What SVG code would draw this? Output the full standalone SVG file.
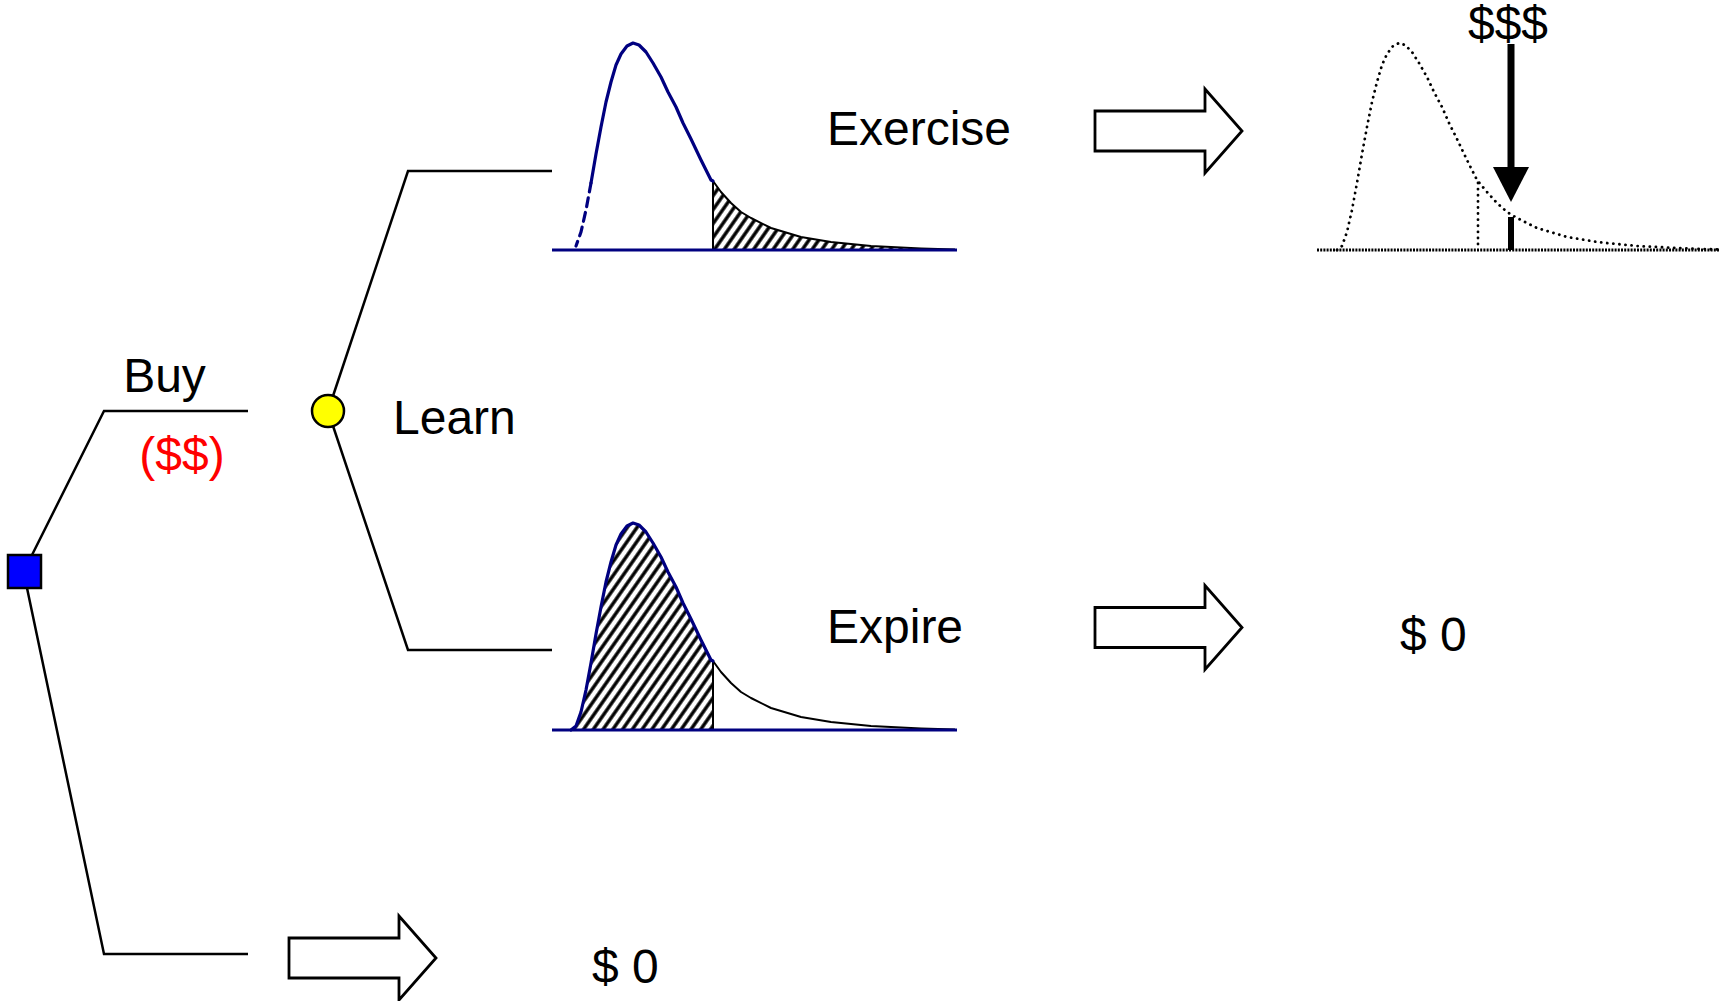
<svg xmlns="http://www.w3.org/2000/svg" width="1719" height="1001" viewBox="0 0 1719 1001">
  <style>
    .lbl { font-family: "Liberation Sans", Arial, sans-serif; font-size: 48px; fill: #000; }
    .red { fill: #ff0000; }
    .branch { fill: none; stroke: #000; stroke-width: 2.5; stroke-linejoin: miter; }
    .blk { fill: #fff; stroke: #000; stroke-width: 2.8; stroke-linejoin: miter; }
    .navy { fill: none; stroke: #000080; stroke-width: 3.2; stroke-linejoin: round; stroke-linecap: round; }
    .thin { fill: none; stroke: #000; stroke-width: 2; stroke-linejoin: round; }
    .dots { fill: none; stroke: #000; stroke-width: 2.8; stroke-linecap: round; stroke-dasharray: 0.1 6; stroke-linejoin: round; }
  </style>
  <defs>
    <pattern id="hatch" patternUnits="userSpaceOnUse" width="8" height="8" patternTransform="rotate(35)">
      <rect width="8" height="8" fill="#fff"/>
      <line x1="2" y1="0" x2="2" y2="8" stroke="#000" stroke-width="3.4"/>
    </pattern>
    <polygon id="blockArrow" points="0,-20 110,-20 110,-42 147,0 110,42 110,20 0,20"/>
  </defs>
  <rect width="1719" height="1001" fill="#fff"/>

  <g id="connectors">
    <polyline class="branch" points="32,555 104,411 248,411"/>
    <polyline class="branch" points="27,588 104,954 248,954"/>
    <polyline class="branch" points="328,411 408,171 552,171"/>
    <polyline class="branch" points="328,411 408,650 552,650"/>
  </g>

  <g id="decision-node">
    <rect x="8" y="555" width="33" height="33" fill="#0000ff" stroke="#000" stroke-width="2.5"/>
  </g>
  <g id="buy-label">
    <text class="lbl" x="164.5" y="392" text-anchor="middle">Buy</text>
    <text class="lbl red" x="182" y="471" text-anchor="middle">($$)</text>
  </g>
  <g id="chance-node">
    <circle cx="328" cy="411" r="16" fill="#ffff00" stroke="#000" stroke-width="2.5"/>
  </g>
  <g id="learn-label">
    <text class="lbl" x="393" y="434">Learn</text>
  </g>

  <g id="exercise-dist" transform="translate(-2,0)">
    <path fill="url(#hatch)" stroke="none" d="M715,250 L715,180 L723,192 L733,203 L743,212 L753,218 L773,228 L803,237 L833,242 L873,246 L923,248.5 L945,249.5 L945,250 Z"/>
    <path class="thin" d="M715,181 L723,192 L733,203 L743,212 L753,218 L773,228 L803,237 L833,242 L873,246 L923,248.5 L957,249.6"/>
    <line x1="715" y1="181" x2="715" y2="250" stroke="#000" stroke-width="2"/>
    <path class="navy" stroke-dasharray="9 6" stroke-linecap="butt" d="M593,183 L588,210 L583,232 L578,246"/>
    <path class="navy" d="M593,183 L598,154 L603,127 L608,102 L613,82 L618,65 L623,54 L629,46 L635,43 L641,45 L648,52 L655,63 L663,77 L670,92 L678,107 L685,123 L693,139 L703,160 L713,180 L715,181"/>
    <line x1="554" y1="250" x2="959" y2="250" stroke="#000080" stroke-width="3"/>
  </g>
  <g id="exercise-label">
    <text class="lbl" x="827" y="145">Exercise</text>
  </g>

  <g id="expire-dist" transform="translate(-2,0)">
    <path fill="url(#hatch)" stroke="none" d="M573,730 L578,726 L583,712 L588,690 L593,663 L598,634 L603,607 L608,582 L613,562 L618,545 L623,534 L629,526 L635,523 L641,525 L648,532 L655,543 L663,557 L670,572 L678,587 L685,603 L693,619 L703,640 L713,660 L715,661 L715,730 Z"/>
    <path class="thin" d="M715,661 L723,672 L733,683 L743,692 L753,698 L773,708 L803,717 L833,722 L873,726 L923,728.5 L957,729.6"/>
    <line x1="715" y1="661" x2="715" y2="730" stroke="#000" stroke-width="2"/>
    <path class="navy" d="M573,730 L578,726 L583,712 L588,690 L593,663 L598,634 L603,607 L608,582 L613,562 L618,545 L623,534 L629,526 L635,523 L641,525 L648,532 L655,543 L663,557 L670,572 L678,587 L685,603 L693,619 L703,640 L713,660 L715,661"/>
    <line x1="554" y1="730" x2="959" y2="730" stroke="#000080" stroke-width="3"/>
  </g>
  <g id="expire-label">
    <text class="lbl" x="827" y="643">Expire</text>
  </g>

  <g id="arrow-exercise">
    <use href="#blockArrow" class="blk" transform="translate(1095,131)"/>
  </g>
  <g id="arrow-expire">
    <use href="#blockArrow" class="blk" transform="translate(1095,627.5)"/>
  </g>
  <g id="arrow-nobuy">
    <use href="#blockArrow" class="blk" transform="translate(289,958)"/>
  </g>

  <g id="payoff-dist">
    <line x1="1317" y1="250" x2="1719" y2="250" stroke="#000" stroke-width="2.8" stroke-dasharray="2 1.2"/>
    <path class="dots" d="M1337,250 L1342,246 L1347,232 L1352,210 L1357,183 L1362,154 L1367,127 L1372,102 L1377,82 L1382,65 L1387,54 L1393,46 L1399,43 L1405,45 L1412,52 L1419,63 L1427,77 L1434,92 L1442,107 L1449,123 L1457,139 L1467,160 L1477,180 L1487,192 L1497,203 L1507,212 L1517,218 L1537,228 L1567,237 L1597,242 L1637,246 L1687,248.5 L1719,249.5"/>
    <line class="dots" x1="1478" y1="183" x2="1478" y2="250"/>
    <line x1="1511" y1="217" x2="1511" y2="250" stroke="#000" stroke-width="6"/>
    <rect x="1507.5" y="44" width="7" height="125" fill="#000"/>
    <polygon points="1493,167 1529,167 1511,202" fill="#000"/>
    <text class="lbl" x="1508" y="40" text-anchor="middle">$$$</text>
  </g>

  <g id="payoff-zero-expire">
    <text class="lbl" x="1400" y="651">$ 0</text>
  </g>
  <g id="payoff-zero-nobuy">
    <text class="lbl" x="592" y="983">$ 0</text>
  </g>
</svg>
